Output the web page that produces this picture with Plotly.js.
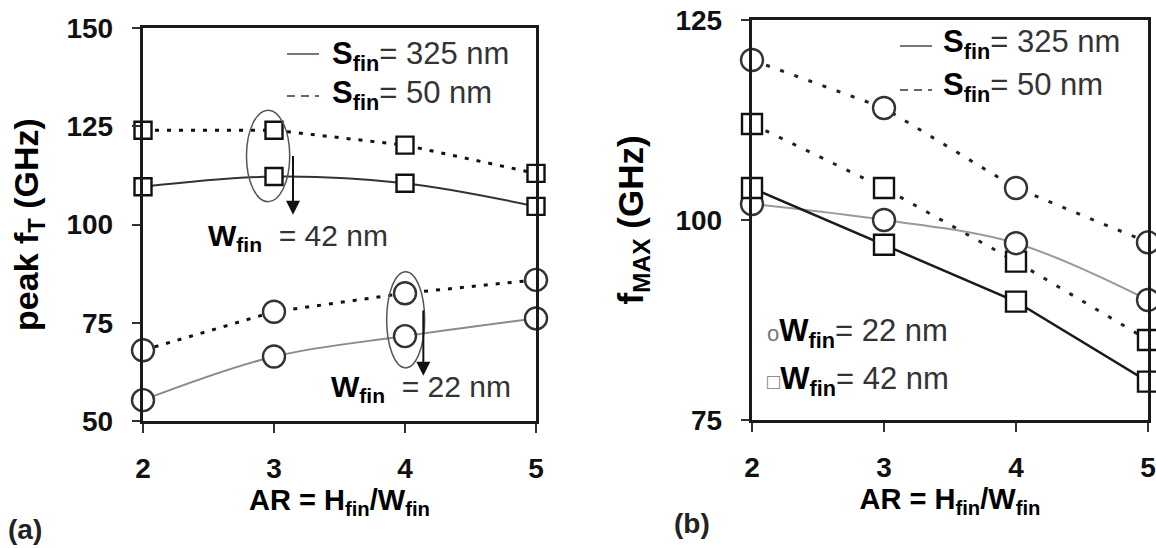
<!DOCTYPE html>
<html>
<head>
<meta charset="utf-8">
<script src="https://cdn.plot.ly/plotly-3.0.1.min.js"></script>
<style>html,body{margin:0;padding:0;background:#fff;}#chart{width:1156px;height:548px;}</style>
</head>
<body>
<div id="chart"></div>
<script>
// ---- data ----
const ar = [2, 3, 4, 5];
const arTicks = ['2', '3', '4', '5'];
// (a) peak fT (GHz)
const ftSq50  = [124, 124, 120.2, 113];
const ftSq325 = [109.6, 112.2, 110.5, 104.6];
const ftCi50  = [68, 77.8, 82.5, 85.9];
const ftCi325 = [55.3, 66.4, 71.6, 76.1];
// (b) fMAX (GHz)
const fmCi50  = [120, 114, 104, 97.2];
const fmSq50  = [112, 104, 94.8, 85];
const fmSq325 = [104, 96.9, 89.8, 79.8];
const fmCi325 = [102, 100, 97.1, 90];
const ftTicks = [50, 75, 100, 125, 150];
const fmTicks = [75, 100, 125];

// ---- geometry ----
const W = 1156, H = 548;
const M = {l: 143, r: 8, t: 20, b: 126};
const pw = W - M.l - M.r, ph = H - M.t - M.b;
const X = px => (px - M.l) / pw;
const Y = py => 1 - (py - M.t) / ph;

const FONT = 'Liberation Sans, Arial, Helvetica, sans-serif';
const dotDash = '4px,8px';
const dotDash2 = '4px,11px';

function tr(x, y, xa, ya, sym, size, lcol, dash, width, shape, mcol) {
  return {
    x: x, y: y, xaxis: xa, yaxis: ya, type: 'scatter', mode: 'lines+markers',
    cliponaxis: false, showlegend: false, hoverinfo: 'skip',
    line: {color: lcol, width: width, dash: dash, shape: shape, smoothing: 1},
    marker: {symbol: sym, size: size, color: '#fff', line: {color: mcol || '#111', width: 2.4}}
  };
}

const data = [
  tr(ar, ftSq325, 'x', 'y', 'square', 17, '#333', 'solid', 2, 'spline'),
  tr(ar, ftSq50, 'x', 'y', 'square', 17, '#111', dotDash, 3, 'linear'),
  tr(ar, ftCi325, 'x', 'y', 'circle', 22, '#8a8a8a', 'solid', 2, 'spline', '#333'),
  tr(ar, ftCi50, 'x', 'y', 'circle', 22, '#111', dotDash, 3, 'linear', '#333'),
  tr(ar, fmCi50, 'x2', 'y2', 'circle', 22, '#222', dotDash2, 3, 'linear', '#333'),
  tr(ar, fmSq50, 'x2', 'y2', 'square', 20, '#222', dotDash2, 3, 'linear'),
  tr(ar, fmCi325, 'x2', 'y2', 'circle', 22, '#999', 'solid', 2, 'spline', '#333'),
  tr(ar, fmSq325, 'x2', 'y2', 'square', 20, '#1a1a1a', 'solid', 2.5, 'linear')
];

const xAxisBase = {
  range: [2, 5], tickvals: ar, ticktext: arTicks, showgrid: false, zeroline: false,
  showline: true, mirror: true, linecolor: '#1a1a1a', linewidth: 3.2,
  ticks: 'outside', ticklen: 9, tickwidth: 2, tickcolor: '#333',
  ticklabelstandoff: 11,
  tickfont: {family: FONT, size: 28, color: '#111', weight: 'bold'},
  title: {text: '<b>AR = H<sub>fin</sub>/W<sub>fin</sub></b>', standoff: 6,
          font: {family: FONT, size: 29, color: '#000', weight: 'bold'}}
};
const yAxisBase = {
  showgrid: false, zeroline: false,
  showline: true, mirror: true, linecolor: '#1a1a1a', linewidth: 3.2,
  ticks: 'outside', ticklen: 8, tickwidth: 2, tickcolor: '#333',
  ticklabelstandoff: 13,
  tickfont: {family: FONT, size: 28, color: '#111', weight: 'bold'}
};

function ann(px, py, text, size, extra) {
  return Object.assign({
    xref: 'paper', yref: 'paper', x: X(px), y: Y(py), xanchor: 'left', yanchor: 'middle',
    text: text, showarrow: false, font: {family: FONT, size: size, color: '#333'}
  }, extra || {});
}
const S = '<b><span style="color:#000">S</span></b><sub><b><span style="color:#000">fin</span></b></sub>';
const Wf = '<b><span style="color:#000">W</span></b><sub><b><span style="color:#000">fin</span></b></sub>';
const NB = '\u00a0';

const annotations = [
  // (a) legend
  ann(330, 56, S + '= 325 nm', 31),
  ann(330, 95, S + '= 50 nm', 31),
  // (a) Wfin labels
  ann(206, 237, Wf + NB + NB + '= 42 nm', 30),
  ann(329, 388, Wf + NB + NB + '= 22 nm', 30),
  // (b) legend
  ann(941, 44, S + '= 325 nm', 31),
  ann(941, 87, S + '= 50 nm', 31),
  ann(765, 333, '<span style="color:#777;font-size:22px">o</span>' + Wf + '= 22 nm', 31),
  ann(765, 381, '<span style="color:#777;font-size:22px">\u25a1</span>' + Wf + '= 42 nm', 31),
  // panel labels
  ann(6, 529, '<b>(a)</b>', 28, {font: {family: FONT, size: 28, color: '#222'}}),
  ann(672, 523, '<b>(b)</b>', 28, {font: {family: FONT, size: 28, color: '#222'}}),
  // arrows
  {xref: 'x', yref: 'y', axref: 'x', ayref: 'y', x: 3.145, y: 102.5, ax: 3.145, ay: 117.8,
   text: '', showarrow: true, arrowhead: 2, arrowsize: 1.4, arrowwidth: 2, arrowcolor: '#111'},
  {xref: 'x', yref: 'y', axref: 'x', ayref: 'y', x: 4.14, y: 61.5, ax: 4.14, ay: 78.5,
   text: '', showarrow: true, arrowhead: 2, arrowsize: 1.4, arrowwidth: 2, arrowcolor: '#111'}
];

const shapes = [
  // ellipses
  {type: 'circle', xref: 'x', yref: 'y', x0: 2.79, x1: 3.12, y0: 105.8, y1: 129.1,
   line: {color: '#555', width: 1.5}},
  {type: 'circle', xref: 'x', yref: 'y', x0: 3.86, x1: 4.15, y0: 63.5, y1: 88.0,
   line: {color: '#555', width: 1.5}},
  // legend line samples
  {type: 'line', xref: 'paper', yref: 'paper', x0: X(287), x1: X(319), y0: Y(54), y1: Y(54),
   line: {color: '#777', width: 2}},
  {type: 'line', xref: 'paper', yref: 'paper', x0: X(287), x1: X(319), y0: Y(96), y1: Y(96),
   line: {color: '#666', width: 2, dash: '8px,6px'}},
  {type: 'line', xref: 'paper', yref: 'paper', x0: X(900), x1: X(932), y0: Y(46), y1: Y(46),
   line: {color: '#777', width: 2}},
  {type: 'line', xref: 'paper', yref: 'paper', x0: X(900), x1: X(932), y0: Y(90), y1: Y(90),
   line: {color: '#666', width: 2, dash: '8px,6px'}}
];

const layout = {
  width: W, height: H, margin: M, paper_bgcolor: '#fff', plot_bgcolor: '#fff',
  showlegend: false,
  xaxis: Object.assign({}, xAxisBase, {domain: [0, X(536)], anchor: 'y'}),
  yaxis: Object.assign({}, yAxisBase, {domain: [Y(421), Y(28)], range: [50, 150], tickvals: ftTicks, anchor: 'x',
    title: {text: '<b>peak f<sub>T</sub> (GHz)</b>', standoff: 18,
            font: {family: FONT, size: 34, color: '#000', weight: 'bold'}}}),
  xaxis2: Object.assign({}, xAxisBase, {domain: [X(752), X(1148)], anchor: 'y2'}),
  yaxis2: Object.assign({}, yAxisBase, {domain: [Y(420), Y(20)], range: [75, 125], tickvals: fmTicks, anchor: 'x2',
    title: {text: '<b>f<sub>MAX</sub> (GHz)</b>', standoff: 22,
            font: {family: FONT, size: 35, color: '#000', weight: 'bold'}}}),
  annotations: annotations,
  shapes: shapes
};

Plotly.newPlot('chart', data, layout, {staticPlot: true, displayModeBar: false});
</script>
</body>
</html>
